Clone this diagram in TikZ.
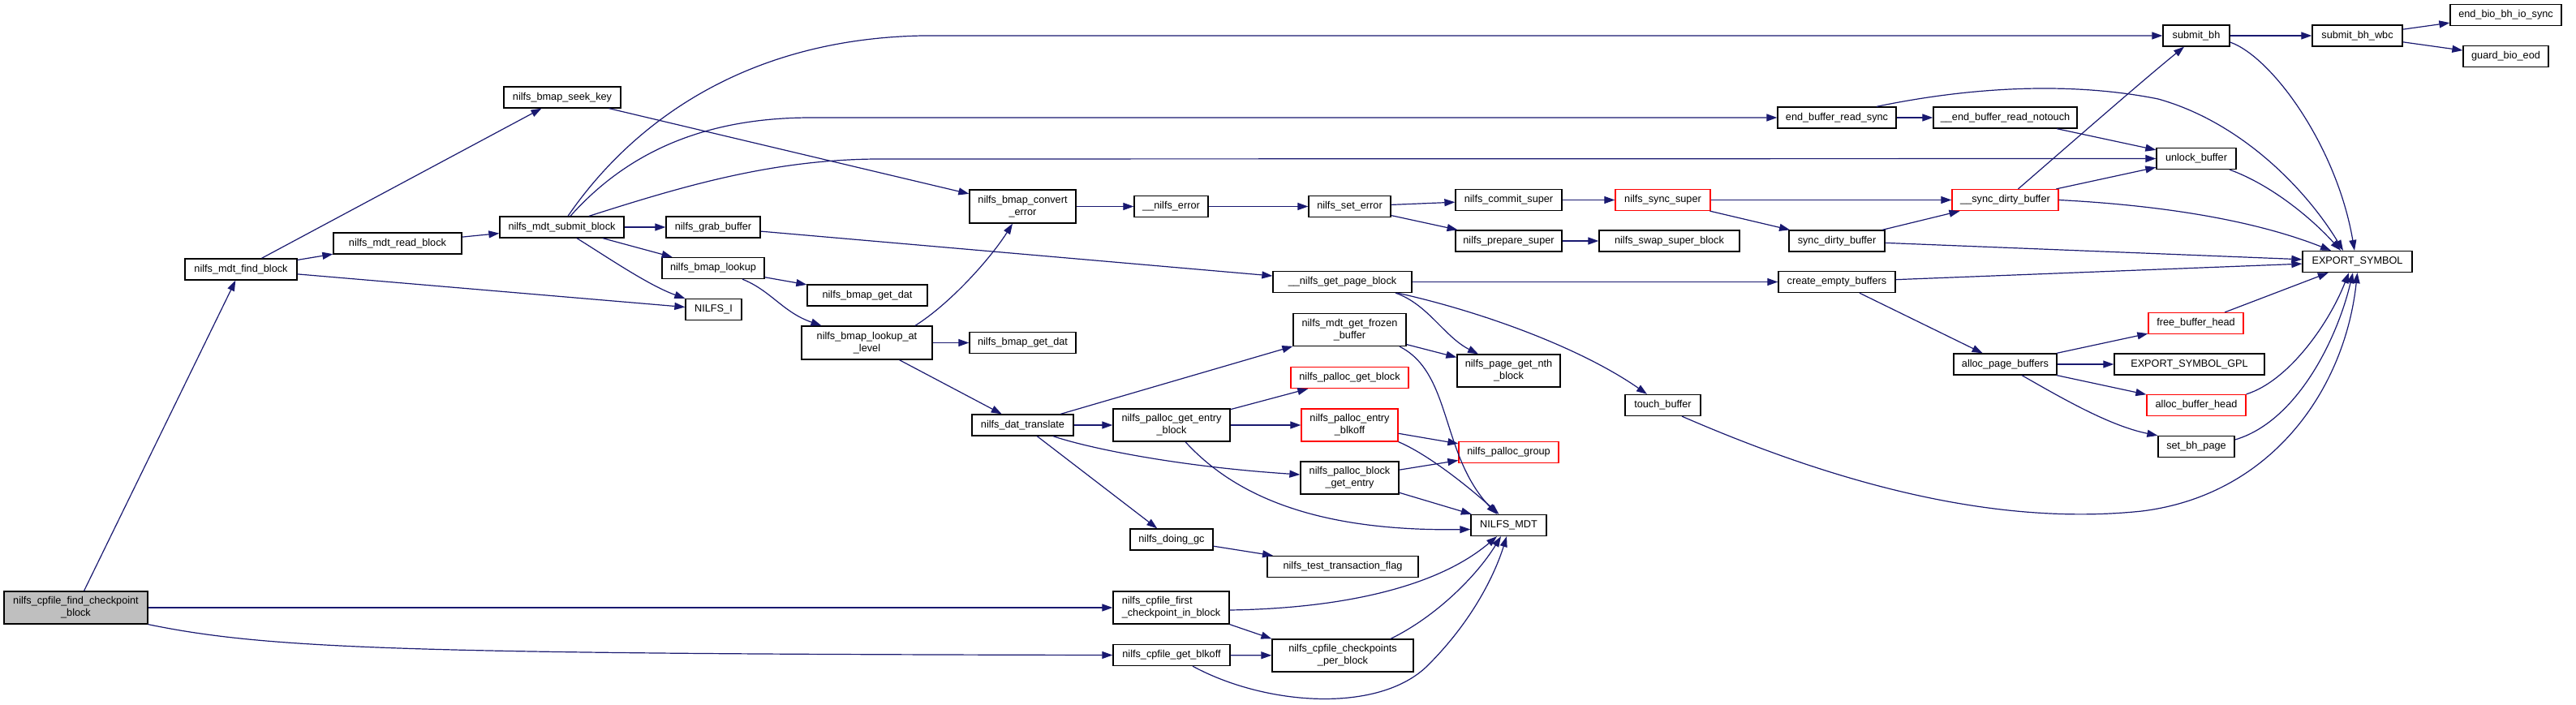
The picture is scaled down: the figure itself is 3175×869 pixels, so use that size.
\documentclass[tikz,border=0pt]{standalone}
\usepackage{fontspec}
\setmainfont{Liberation Sans}
\usetikzlibrary{arrows.meta}
\definecolor{edgecol}{HTML}{191970}
\definecolor{rootfill}{HTML}{BFBFBF}
\definecolor{redb}{HTML}{FF0000}
\tikzset{
 fn/.style={draw=black, line width=1.3pt, fill=white, inner sep=0pt, minimum height=26pt, align=center, font=\fontsize{12.7}{15}\selectfont},
 fnred/.style={fn, draw=redb},
 fnroot/.style={fn, fill=rootfill},
 e/.style={draw=edgecol, line width=1.2pt, -{Triangle[length=13pt,width=9pt]}},
}
\begin{document}
\begin{tikzpicture}[x=1pt,y=-1pt]
\useasboundingbox (0,0) rectangle (3175,869);
\node[fnroot, minimum width=177pt, minimum height=40pt] (root) at (93.5,749) {nilfs\_cpfile\_find\_checkpoint\\\_block};
\node[fn, minimum width=138pt] (mfind) at (297,332) {nilfs\_mdt\_find\_block};
\node[fn, minimum width=158pt] (mread) at (490,300) {nilfs\_mdt\_read\_block};
\node[fn, minimum width=144pt] (seek) at (693,120) {nilfs\_bmap\_seek\_key};
\node[fn, minimum width=153pt] (msub) at (692.5,280) {nilfs\_mdt\_submit\_block};
\node[fn, minimum width=116pt] (grab) at (879,280) {nilfs\_grab\_buffer};
\node[fn, minimum width=126pt] (blook) at (879,330.5) {nilfs\_bmap\_lookup};
\node[fn, minimum width=69pt] (nilfsi) at (879.5,381.5) {NILFS\_I};
\node[fn, minimum width=148pt] (gdat1) at (1069,364) {nilfs\_bmap\_get\_dat};
\node[fn, minimum width=161pt, minimum height=41pt] (blal) at (1068.5,422.5) {nilfs\_bmap\_lookup\_at\\\_level};
\node[fn, minimum width=131pt] (gdat2) at (1260.5,422.5) {nilfs\_bmap\_get\_dat};
\node[fn, minimum width=131pt, minimum height=41pt] (bconv) at (1260.5,254.5) {nilfs\_bmap\_convert\\\_error};
\node[fn, minimum width=91pt] (nerr) at (1443.5,254.5) {\_\_nilfs\_error};
\node[fn, minimum width=101pt] (seterr) at (1663.5,254.5) {nilfs\_set\_error};
\node[fn, minimum width=131pt] (commit) at (1859.5,246.5) {nilfs\_commit\_super};
\node[fn, minimum width=131pt] (prep) at (1859.5,297) {nilfs\_prepare\_super};
\node[fnred, minimum width=117pt] (syncsup) at (2049.5,246.5) {nilfs\_sync\_super};
\node[fn, minimum width=173pt] (swap) at (2057.5,297) {nilfs\_swap\_super\_block};
\node[fn, minimum width=171pt] (gpb) at (1654.5,347.5) {\_\_nilfs\_get\_page\_block};
\node[fn, minimum width=139pt, minimum height=40pt] (frozen) at (1663.5,406.5) {nilfs\_mdt\_get\_frozen\\\_buffer};
\node[fn, minimum width=127pt, minimum height=40pt] (nth) at (1859.5,457) {nilfs\_page\_get\_nth\\\_block};
\node[fnred, minimum width=145pt] (pgb) at (1663.5,465.5) {nilfs\_palloc\_get\_block};
\node[fnred, minimum width=119pt, minimum height=40pt] (peb) at (1663.5,524) {nilfs\_palloc\_entry\\\_blkoff};
\node[fnred, minimum width=123pt] (pgroup) at (1859.5,557.5) {nilfs\_palloc\_group};
\node[fn, minimum width=121pt, minimum height=40pt] (pbge) at (1663.5,589) {nilfs\_palloc\_block\\\_get\_entry};
\node[fn, minimum width=93pt] (mdt) at (1859.5,647.5) {NILFS\_MDT};
\node[fn, minimum width=186pt] (ttf) at (1655,698.5) {nilfs\_test\_transaction\_flag};
\node[fn, minimum width=174pt, minimum height=40pt] (cppb) at (1655,808) {nilfs\_cpfile\_checkpoints\\\_per\_block};
\node[fn, minimum width=125pt] (dat) at (1260.5,524) {nilfs\_dat\_translate};
\node[fn, minimum width=144pt, minimum height=40pt] (pgeb) at (1444,524) {nilfs\_palloc\_get\_entry\\\_block};
\node[fn, minimum width=102pt] (gc) at (1444,665) {nilfs\_doing\_gc};
\node[fn, minimum width=143pt, minimum height=40pt, align=left] (first) at (1443.5,749) {nilfs\_cpfile\_first\\\_checkpoint\_in\_block};
\node[fn, minimum width=144pt] (blkoff) at (1444,807.5) {nilfs\_cpfile\_get\_blkoff};
\node[fn, minimum width=93pt] (touch) at (2049.5,499.5) {touch\_buffer};
\node[fn, minimum width=82pt] (sbh) at (2707,44) {submit\_bh};
\node[fn, minimum width=111pt] (wbc) at (2905.5,44) {submit\_bh\_wbc};
\node[fn, minimum width=137pt] (eb) at (3088.5,18.5) {end\_bio\_bh\_io\_sync};
\node[fn, minimum width=105pt] (guard) at (3088.5,69.5) {guard\_bio\_eod};
\node[fn, minimum width=146pt] (ebrs) at (2264,145) {end\_buffer\_read\_sync};
\node[fn, minimum width=177pt] (ebrn) at (2471.5,145) {\_\_end\_buffer\_read\_notouch};
\node[fn, minimum width=98pt] (unlock) at (2707,195.5) {unlock\_buffer};
\node[fnred, minimum width=131pt] (sdb2) at (2471.5,246.5) {\_\_sync\_dirty\_buffer};
\node[fn, minimum width=118pt] (sdb) at (2264,297) {sync\_dirty\_buffer};
\node[fn, minimum width=144pt] (ceb) at (2264,347.5) {create\_empty\_buffers};
\node[fn, minimum width=135pt] (exp) at (2905.5,322.5) {EXPORT\_SYMBOL};
\node[fnred, minimum width=117pt] (fbh) at (2706.5,398.5) {free\_buffer\_head};
\node[fn, minimum width=127pt] (apb) at (2471.5,449) {alloc\_page\_buffers};
\node[fn, minimum width=185pt] (gpl) at (2698.5,449) {EXPORT\_SYMBOL\_GPL};
\node[fnred, minimum width=122pt] (abh) at (2707,499.5) {alloc\_buffer\_head};
\node[fn, minimum width=94pt] (sbp) at (2707,550.5) {set\_bh\_page};

\draw[e] (root) -- (mfind);
\draw[e] (root) -- (first);
\draw[e] (root.south east) .. controls (330,800) and (500,806) .. (blkoff.west);
\draw[e] (mfind) -- (mread);
\draw[e] (mfind) -- (seek);
\draw[e] (mfind) -- (nilfsi);
\draw[e] (mread) -- (msub);
\draw[e] ([xshift=7.5pt]msub.north) .. controls (780,150) and (920,48) .. (1137,44) -- (sbh.west);
\draw[e] ([xshift=10.5pt]msub.north) .. controls (780,180) and (880,145) .. (1000,145) -- (ebrs.west);
\draw[e] ([xshift=33.5pt]msub.north) .. controls (840,230) and (950,197) .. (1080,196) -- (unlock.west);
\draw[e] (msub) -- (grab);
\draw[e] (msub) -- (blook);
\draw[e] ([xshift=18.5pt]msub.south) .. controls (750,318) and (800,352) .. (nilfsi.north west);
\draw[e] (seek) -- (bconv);
\draw[e] (grab) -- (gpb);
\draw[e] (blook) -- (gdat1);
\draw[e] ([xshift=36pt]blook.south) .. controls (950,358) and (965,385) .. ([xshift=-56pt]blal.north);
\draw[e] ([xshift=59.5pt]blal.north) .. controls (1170,375) and (1220,320) .. ([xshift=-12.5pt]bconv.south);
\draw[e] (blal) -- (gdat2);
\draw[e] (blal) -- (dat);
\draw[e] (bconv) -- (nerr);
\draw[e] (nerr) -- (seterr);
\draw[e] (seterr) -- (commit);
\draw[e] (seterr) -- (prep);
\draw[e] (commit) -- (syncsup);
\draw[e] (prep) -- (swap);
\draw[e] (syncsup) -- (sdb2);
\draw[e] (syncsup) -- (sdb);
\draw[e] (sdb) -- (sdb2);
\draw[e] (sdb) -- (exp);
\draw[e] ([xshift=16pt]sdb2.north) .. controls (2560,170) and (2640,100) .. ([xshift=-15pt]sbh.south);
\draw[e] (sdb2) -- (unlock);
\draw[e] (sdb2.east) .. controls (2700,255) and (2800,280) .. ([xshift=-32.5pt]exp.north);
\draw[e] (ebrs) -- (ebrn);
\draw[e] ([xshift=49pt]ebrs.north) .. controls (2440,105) and (2560,102) .. (2660,122) .. controls (2760,150) and (2840,230) .. ([xshift=-17.5pt]exp.north);
\draw[e] (ebrn) -- (unlock);
\draw[e] ([xshift=41pt]unlock.south) .. controls (2800,228) and (2850,270) .. ([xshift=-20.5pt]exp.north);
\draw[e] (sbh) -- (wbc);
\draw[e] ([yshift=-8pt]sbh.east) .. controls (2800,70) and (2880,180) .. ([xshift=-3.5pt]exp.north);
\draw[e] (wbc) -- (eb);
\draw[e] (wbc) -- (guard);
\draw[e] (gpb) -- (ceb);
\draw[e] ([xshift=65.5pt]gpb.south) .. controls (1760,375) and (1780,415) .. ([xshift=-37.5pt]nth.north);
\draw[e] ([xshift=68pt]gpb.south) .. controls (1830,385) and (1950,430) .. ([xshift=-19.5pt]touch.north);
\draw[e] (ceb) -- (exp);
\draw[e] (ceb) -- (apb);
\draw[e] (apb) -- (fbh);
\draw[e] (apb) -- (gpl);
\draw[e] (apb) -- (abh);
\draw[e] ([xshift=20.5pt]apb.south) .. controls (2540,490) and (2600,525) .. (sbp.north west);
\draw[e] (fbh) -- (exp);
\draw[e] (abh.north east) .. controls (2820,470) and (2870,400) .. ([xshift=-10.5pt]exp.south);
\draw[e] ([yshift=8.5pt]sbp.east) .. controls (2830,520) and (2880,420) .. ([xshift=-5.5pt]exp.south);
\draw[e] ([xshift=23.5pt]touch.south) .. controls (2250,590) and (2450,650) .. (2640,630) .. controls (2800,610) and (2890,480) .. (exp.south);
\draw[e] (dat) -- (frozen);
\draw[e] (dat) -- (pgeb);
\draw[e] ([xshift=37.5pt]dat.south) .. controls (1340,552) and (1450,575) .. ([yshift=4pt]pbge.west);
\draw[e] (dat) -- (gc);
\draw[e] (frozen) -- (nth);
\draw[e] ([xshift=61.5pt]frozen.south) .. controls (1790,460) and (1775,560) .. ([xshift=-14.5pt]mdt.north);
\draw[e] (pgeb) -- (pgb);
\draw[e] (pgeb) -- (peb);
\draw[e] ([xshift=17pt]pgeb.south) .. controls (1530,620) and (1640,655) .. ([yshift=-5pt]mdt.west);
\draw[e] (peb) -- (pgroup);
\draw[e] (peb.south east) .. controls (1760,560) and (1810,600) .. ([xshift=-12pt]mdt.north);
\draw[e] (pbge) -- (pgroup);
\draw[e] (pbge) -- (mdt);
\draw[e] (gc) -- (ttf);
\draw[e] ([yshift=-3pt]first.east) .. controls (1650,750) and (1770,725) .. ([xshift=-14.5pt]mdt.south);
\draw[e] (first.south east) -- (cppb.north west);
\draw[e] (blkoff) -- (cppb);
\draw[e] ([xshift=26pt]blkoff.south) .. controls (1560,870) and (1700,880) .. (1760,820) .. controls (1820,760) and (1845,700) .. ([xshift=-2.5pt]mdt.south);
\draw[e] ([xshift=59pt]cppb.north) .. controls (1770,760) and (1820,710) .. ([xshift=-9.5pt]mdt.south);
\end{tikzpicture}
\end{document}
